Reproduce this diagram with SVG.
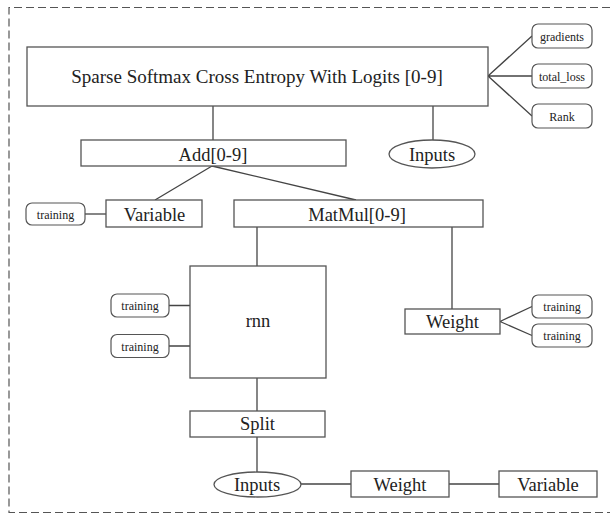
<svg xmlns="http://www.w3.org/2000/svg" width="610" height="519" viewBox="0 0 610 519">
  <style>
    .frame { fill: none; stroke: #555; stroke-width: 1.2; stroke-dasharray: 8 4; }
    .box { fill: #fff; stroke: #555; stroke-width: 1.3; }
    .pill { fill: #fff; stroke: #555; stroke-width: 1.2; }
    .edge { fill: none; stroke: #444; stroke-width: 1.3; }
    text { font-family: "Liberation Serif", "Times New Roman", Times, "DejaVu Serif", serif; fill: #222; text-anchor: middle; }
    .lbl { font-size: 18.5px; }
    .big { font-size: 19px; }
    .small { font-size: 12px; }
  </style>

  <!-- dashed frame (open on the right) -->
  <path class="frame" d="M610 7.5 H9 V512.5 H610"/>

  <g id="connectors">
    <path class="edge" d="M488 76 L532 36 M488 76 L532 76 M488 76 L532 116"/>
    <path class="edge" d="M213 106 V140"/>
    <path class="edge" d="M433 106 V140"/>
    <path class="edge" d="M212 166 L155 200 M212 166 L356 200"/>
    <path class="edge" d="M85 214 H106"/>
    <path class="edge" d="M257 227 V266"/>
    <path class="edge" d="M452 227 V309"/>
    <path class="edge" d="M500 321.5 L532 306.5 M500 321.5 L532 335.5"/>
    <path class="edge" d="M169 305.5 H190 M169 346 H190"/>
    <path class="edge" d="M257 378 V411"/>
    <path class="edge" d="M257 437 V472"/>
    <path class="edge" d="M301 484 H351"/>
    <path class="edge" d="M449 484 H499"/>
  </g>

  <g id="loss">
    <rect class="box" x="27" y="47" width="461" height="59"/>
    <text class="big" x="257" y="82.5">Sparse Softmax Cross Entropy With Logits [0-9]</text>
  </g>
  <g id="gradients">
    <rect class="pill" x="532" y="24" width="60" height="24" rx="6"/>
    <text class="small" x="562" y="40.5">gradients</text>
  </g>
  <g id="total-loss">
    <rect class="pill" x="532" y="64" width="60" height="24" rx="6"/>
    <text class="small" x="562" y="80.5">total_loss</text>
  </g>
  <g id="rank">
    <rect class="pill" x="532" y="104" width="60" height="24" rx="6"/>
    <text class="small" x="562" y="120.5">Rank</text>
  </g>

  <g id="add">
    <rect class="box" x="81" y="140" width="265" height="26"/>
    <text class="lbl" x="213" y="160.5">Add[0-9]</text>
  </g>
  <g id="inputs-top">
    <ellipse class="box" cx="432" cy="154" rx="43" ry="14"/>
    <text class="lbl" x="432" y="160.5">Inputs</text>
  </g>

  <g id="variable-top">
    <rect class="box" x="106" y="200" width="96" height="27"/>
    <text class="lbl" x="154.5" y="221">Variable</text>
  </g>
  <g id="variable-training">
    <rect class="pill" x="26" y="203" width="59" height="22" rx="6"/>
    <text class="small" x="55.5" y="218.5">training</text>
  </g>

  <g id="matmul">
    <rect class="box" x="234" y="200" width="249" height="27"/>
    <text class="lbl" x="357" y="221">MatMul[0-9]</text>
  </g>

  <g id="rnn">
    <rect class="box" x="190" y="266" width="136" height="112"/>
    <text class="lbl" x="258" y="327">rnn</text>
  </g>
  <g id="rnn-training-1">
    <rect class="pill" x="111" y="294" width="58" height="23" rx="6"/>
    <text class="small" x="140" y="310">training</text>
  </g>
  <g id="rnn-training-2">
    <rect class="pill" x="111" y="334.5" width="58" height="23" rx="6"/>
    <text class="small" x="140" y="350.5">training</text>
  </g>

  <g id="weight-mid">
    <rect class="box" x="405" y="309" width="95" height="25"/>
    <text class="lbl" x="452.5" y="328">Weight</text>
  </g>
  <g id="weight-training-1">
    <rect class="pill" x="532" y="295" width="60" height="23" rx="6"/>
    <text class="small" x="562" y="311">training</text>
  </g>
  <g id="weight-training-2">
    <rect class="pill" x="532" y="324" width="60" height="23" rx="6"/>
    <text class="small" x="562" y="340">training</text>
  </g>

  <g id="split">
    <rect class="box" x="190" y="411" width="135" height="26"/>
    <text class="lbl" x="257.5" y="430">Split</text>
  </g>

  <g id="inputs-bottom">
    <ellipse class="box" cx="257.5" cy="484.5" rx="43.5" ry="12.5"/>
    <text class="lbl" x="257" y="490.5">Inputs</text>
  </g>
  <g id="weight-bottom">
    <rect class="box" x="351" y="471" width="98" height="26"/>
    <text class="lbl" x="400" y="490.5">Weight</text>
  </g>
  <g id="variable-bottom">
    <rect class="box" x="499" y="471" width="98" height="26"/>
    <text class="lbl" x="548" y="490.5">Variable</text>
  </g>
</svg>
